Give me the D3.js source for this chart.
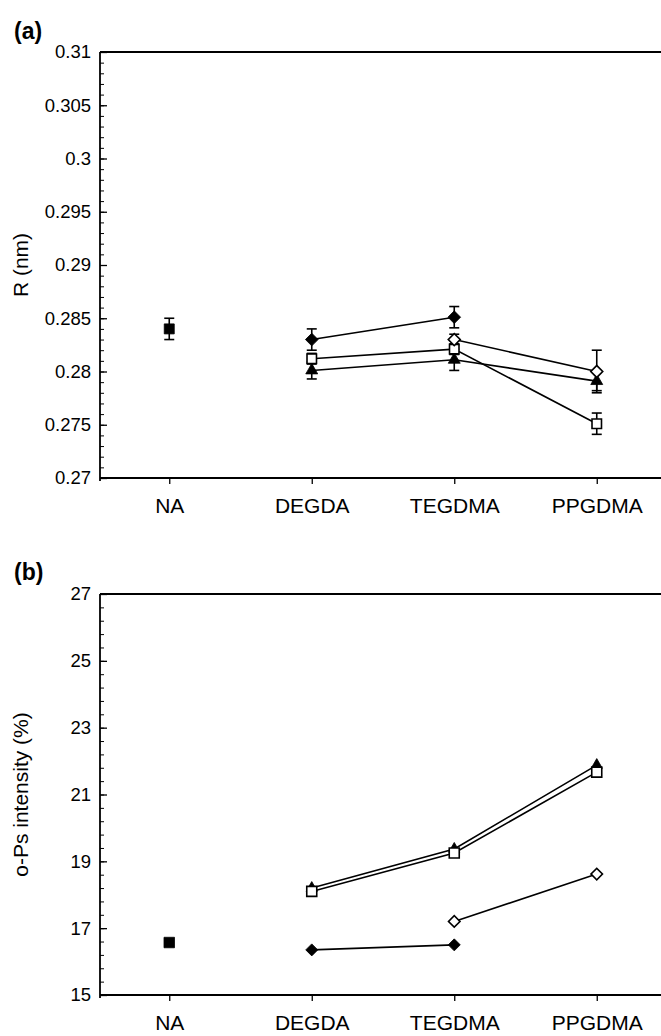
<!DOCTYPE html>
<html>
<head>
<meta charset="utf-8">
<script src="https://cdn.jsdelivr.net/npm/d3@7"></script>
<style>
  body { margin: 0; background: #fff; }
  text { font-family: "Liberation Sans", Arial, sans-serif; fill: #000; }
</style>
</head>
<body>
<div id="chart"></div>
<script>
var categories = ["NA", "DEGDA", "TEGDMA", "PPGDMA"];

// panel (a): R (nm)
var rNA = [0.284, null, null, null];
var rNAErr = [0.001, null, null, null];
var rFilledDiamond = [null, 0.283, 0.2851, null];
var rFilledDiamondErr = [null, 0.001, 0.001, null];
var rOpenDiamond = [null, null, 0.283, 0.280];
var rOpenDiamondErr = [null, null, 0.0005, 0.002];
var rOpenSquare = [null, 0.2812, 0.2821, 0.2751];
var rOpenSquareErr = [null, 0.0005, 0.0005, 0.001];
var rTriangle = [null, 0.2801, 0.2811, 0.2791];
var rTriangleErr = [null, 0.0008, 0.001, 0.0009];
var rTicks = [0.27, 0.275, 0.28, 0.285, 0.29, 0.295, 0.3, 0.305, 0.31];

// panel (b): o-Ps intensity (%)
var iNA = [16.57, null, null, null];
var iFilledDiamond = [null, 16.35, 16.5, null];
var iOpenDiamond = [null, null, 17.2, 18.62];
var iOpenSquare = [null, 18.1, 19.25, 21.67];
var iTriangle = [null, 18.2, 19.37, 21.88];
var iTicks = [15, 17, 19, 21, 23, 25, 27];

var width = 661;
var height = 1036;
var left = 100;
var right = 668;

var svg = d3.select("#chart")
  .append("svg")
  .attr("width", width)
  .attr("height", height);

var x = d3.scalePoint()
  .domain(categories)
  .range([98, right])
  .padding(0.5);

function draw_panel(cfg) {
  var g = svg.append("g");
  var y = cfg.y;
  var top = y.range()[1], bottom = y.range()[0];

  // minor ticks
  g.append("g")
    .attr("transform", "translate(" + left + ",0)")
    .call(d3.axisLeft(y).tickValues(cfg.minor).tickSize(-4).tickFormat(""))
    .call(a => a.select(".domain").remove());

  // major ticks + labels
  g.append("g")
    .attr("transform", "translate(" + left + ",0)")
    .call(d3.axisLeft(y).tickValues(cfg.ticks).tickSize(-7).tickSizeOuter(0).tickPadding(9).tickFormat(cfg.fmt))
    .call(a => a.select(".domain").remove())
    .call(a => a.selectAll("text").style("font-size", "18.5px"))
    .call(a => a.selectAll("line").attr("stroke-width", 1.3));

  // category axis
  g.append("g")
    .attr("transform", "translate(0," + bottom + ")")
    .call(d3.axisBottom(x).tickSize(6).tickPadding(14))
    .call(a => a.select(".domain").remove())
    .call(a => a.selectAll("text").style("font-size", "21px"))
    .call(a => a.selectAll("line").attr("stroke-width", 1.3));

  // frame
  g.append("line").attr("x1", left).attr("x2", right).attr("y1", bottom).attr("y2", bottom)
    .attr("stroke", "#000").attr("stroke-width", 1.8);
  g.append("line").attr("x1", left).attr("x2", right).attr("y1", top).attr("y2", top)
    .attr("stroke", "#000").attr("stroke-width", 1.8);
  g.append("line").attr("x1", left).attr("x2", left).attr("y1", top).attr("y2", bottom + 3)
    .attr("stroke", "#000").attr("stroke-width", 1.8);

  // titles
  g.append("text")
    .attr("transform", "translate(" + cfg.titleX + "," + ((top + bottom) / 2) + ") rotate(-90)")
    .attr("text-anchor", "middle")
    .attr("dy", "0.35em")
    .style("font-size", "21px")
    .text(cfg.title);

  g.append("text")
    .attr("x", 14)
    .attr("y", cfg.labelY)
    .style("font-size", "23px")
    .style("font-weight", "bold")
    .text(cfg.label);

  var line = d3.line()
    .defined(d => d.v != null)
    .x(d => x(d.c))
    .y(d => y(d.v));

  cfg.series.forEach(function (s) {
    var pts = s.values.map((v, i) => ({ c: categories[i], v: v, e: s.err ? s.err[i] : null }));
    s.pts = pts;
    g.append("path")
      .datum(pts)
      .attr("fill", "none")
      .attr("stroke", "#000")
      .attr("stroke-width", 1.6)
      .attr("d", line);
  });

  // error bars
  cfg.series.forEach(function (s) {
    var eb = s.pts.filter(d => d.v != null && d.e != null);
    var eg = g.append("g").attr("stroke", "#000").attr("stroke-width", 1.6);
    eb.forEach(function (d) {
      var cx = x(d.c);
      eg.append("line").attr("x1", cx).attr("x2", cx).attr("y1", y(d.v - d.e)).attr("y2", y(d.v + d.e));
      eg.append("line").attr("x1", cx - 5).attr("x2", cx + 5).attr("y1", y(d.v + d.e)).attr("y2", y(d.v + d.e));
      eg.append("line").attr("x1", cx - 5).attr("x2", cx + 5).attr("y1", y(d.v - d.e)).attr("y2", y(d.v - d.e));
    });
  });

  // markers
  cfg.series.forEach(function (s) {
    g.append("g")
      .selectAll("path")
      .data(s.pts.filter(d => d.v != null))
      .join("path")
      .attr("d", d3.symbol().type(s.shape).size(s.size))
      .attr("transform", d => "translate(" + x(d.c) + "," + y(d.v) + ")" + (s.rot ? " rotate(45)" : ""))
      .attr("fill", s.fill)
      .attr("stroke", "#000")
      .attr("stroke-width", s.fill == "#fff" ? 1.6 : 0.8);
  });
}

var yA = d3.scaleLinear().domain([0.27, 0.31]).range([478, 52]);
var yB = d3.scaleLinear().domain([15, 27]).range([995, 594]);

draw_panel({
  y: yA,
  ticks: rTicks,
  minor: d3.range(0, 41).map(i => 0.27 + i * 0.001),
  fmt: d => String(+d.toFixed(3)),
  title: "R (nm)",
  titleX: 21,
  label: "(a)",
  labelY: 39,
  series: [
    { values: rNA, err: rNAErr, shape: d3.symbolSquare, size: 100, fill: "#000" },
    { values: rTriangle, err: rTriangleErr, shape: d3.symbolTriangle, size: 62, fill: "#000" },
    { values: rOpenSquare, err: rOpenSquareErr, shape: d3.symbolSquare, size: 90, fill: "#fff" },
    { values: rOpenDiamond, err: rOpenDiamondErr, shape: d3.symbolSquare, size: 72, fill: "#fff", rot: true },
    { values: rFilledDiamond, err: rFilledDiamondErr, shape: d3.symbolSquare, size: 80, fill: "#000", rot: true }
  ]
});

draw_panel({
  y: yB,
  ticks: iTicks,
  minor: d3.range(0, 31).map(i => 15 + i * 0.4),
  fmt: d => String(d),
  title: "o-Ps intensity (%)",
  titleX: 21,
  label: "(b)",
  labelY: 580,
  series: [
    { values: iNA, shape: d3.symbolSquare, size: 110, fill: "#000" },
    { values: iTriangle, shape: d3.symbolTriangle, size: 55, fill: "#000" },
    { values: iOpenSquare, shape: d3.symbolSquare, size: 100, fill: "#fff" },
    { values: iOpenDiamond, shape: d3.symbolSquare, size: 66, fill: "#fff", rot: true },
    { values: iFilledDiamond, shape: d3.symbolSquare, size: 72, fill: "#000", rot: true }
  ]
});
</script>
</body>
</html>
